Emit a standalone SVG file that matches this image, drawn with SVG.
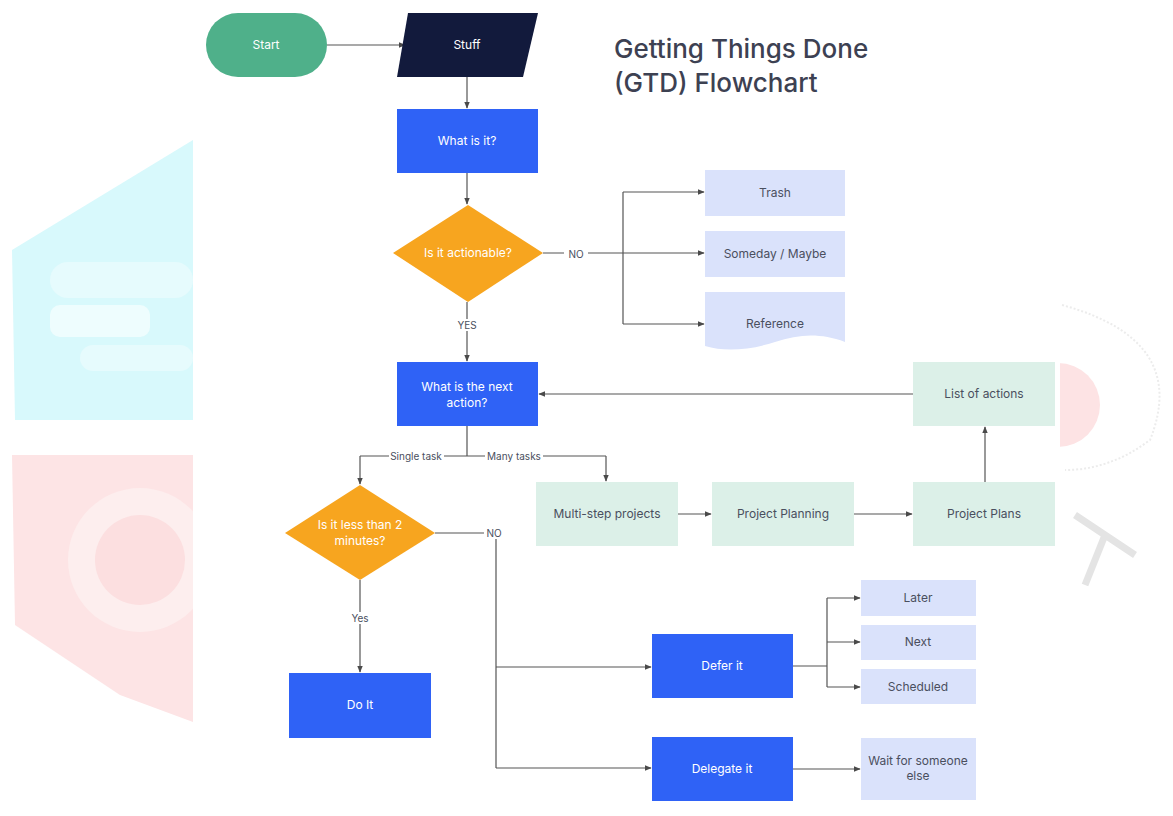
<svg xmlns="http://www.w3.org/2000/svg" width="1173" height="816" viewBox="0 0 1173 816">
<defs>
<marker id="ah" viewBox="0 0 10 10" refX="9" refY="5" markerWidth="7" markerHeight="7" orient="auto-start-reverse" markerUnits="userSpaceOnUse">
<path d="M0,1 L10,5 L0,9 Z" fill="#4a4a4a"/>
</marker>
<style>
.ln{fill:none;stroke:#555;stroke-width:1.2}
.arr{fill:none;stroke:#555;stroke-width:1.2;marker-end:url(#ah)}
.blue{fill:#2f62f6}
.lav{fill:#dae2fb}
.mint{fill:#dcf0e8}
.org{fill:#f7a51f}
.tw{font-family:Inter,"Liberation Sans",sans-serif;font-size:12px;fill:#fff;text-anchor:middle}
.td{font-family:Inter,"Liberation Sans",sans-serif;font-size:12px;fill:#4a4f5e;text-anchor:middle}
.lb{font-family:Inter,"Liberation Sans",sans-serif;font-size:10px;fill:#4a4f5e;text-anchor:middle}
.lbg{fill:#fff}
</style>
</defs>
<rect width="1173" height="816" fill="#fff"/>
<g id="watermark">
<polygon points="193,140 193,420 15,420 12,250" fill="#d8f9fc"/>
<rect x="50" y="262" width="143" height="36" rx="18" fill="#e6fbfd"/>
<rect x="50" y="305" width="100" height="32" rx="10" fill="#eefdfe"/>
<rect x="80" y="345" width="113" height="26" rx="13" fill="#e6fbfd"/>
<polygon points="12,455 193,455 193,722 120,695 15,625" fill="#fde4e5"/>
<circle cx="140" cy="560" r="72" fill="#fdeeee"/>
<circle cx="140" cy="560" r="45" fill="#fcdfe0"/>
<circle cx="1058" cy="405" r="42" fill="#fde3e4"/>
<path d="M1062,305 Q1190,340 1150,440 Q1110,470 1065,470" fill="none" stroke="#ececec" stroke-width="2" stroke-dasharray="2,2"/>
<path d="M1075,515 L1135,555 M1105,535 L1085,585" fill="none" stroke="#e4e4e4" stroke-width="7"/>
<rect x="193" y="0" width="867" height="816" fill="#fff"/>
</g>
<g id="title">
<text x="614" y="58" font-family="Inter,'Liberation Sans',sans-serif" font-size="26" font-weight="500" fill="#3d4152">Getting Things Done</text>
<text x="614" y="92" font-family="Inter,'Liberation Sans',sans-serif" font-size="26" font-weight="500" fill="#3d4152">(GTD) Flowchart</text>
</g>
<g id="connectors">
<path class="arr" d="M327,45 H405"/>
<path class="arr" d="M467,77 V108"/>
<path class="arr" d="M467,173 V204"/>
<path class="ln" d="M543,253 H623 M623,192 V324"/>
<path class="arr" d="M623,192 H704"/>
<path class="arr" d="M623,253 H704"/>
<path class="arr" d="M623,324 H704"/>
<path class="arr" d="M467,302 V361"/>
<path class="arr" d="M913,394 H539"/>
<path class="ln" d="M467,426 V456 M360,456 H606"/>
<path class="arr" d="M360,456 V484"/>
<path class="arr" d="M606,456 V481"/>
<path class="arr" d="M678,514 H711"/>
<path class="arr" d="M854,514 H912"/>
<path class="arr" d="M985,482 V427"/>
<path class="ln" d="M435,533 H496 V768"/>
<path class="arr" d="M496,667 H651"/>
<path class="arr" d="M496,768 H651"/>
<path class="arr" d="M360,580 V672"/>
<path class="ln" d="M793,666 H827 M827,598 V687"/>
<path class="arr" d="M827,598 H860"/>
<path class="arr" d="M827,642 H860"/>
<path class="arr" d="M827,687 H860"/>
<path class="arr" d="M793,769 H860"/>
<rect class="lbg" x="564" y="248" width="24" height="12"/>
<text class="lb" x="576" y="258">NO</text>
<rect class="lbg" x="455" y="319" width="24" height="12"/>
<text class="lb" x="467" y="329">YES</text>
<rect class="lbg" x="389" y="450" width="55" height="12"/>
<text class="lb" x="416" y="460">Single task</text>
<rect class="lbg" x="485" y="450" width="58" height="12"/>
<text class="lb" x="514" y="460">Many tasks</text>
<rect class="lbg" x="484" y="527" width="20" height="12"/>
<text class="lb" x="494" y="537">NO</text>
<rect class="lbg" x="349" y="612" width="22" height="12"/>
<text class="lb" x="360" y="622">Yes</text>
</g>
<g id="start"><rect x="206" y="13" width="121" height="64" rx="32" fill="#4fb08a"/><text class="tw" x="266" y="49">Start</text></g>
<g id="stuff"><polygon points="408,13 538,13 523,77 397,77" fill="#121a3c"/><text class="tw" x="467" y="49">Stuff</text></g>
<g id="what-is-it"><rect class="blue" x="397" y="109" width="141" height="64"/><text class="tw" x="467" y="145">What is it?</text></g>
<g id="actionable"><polygon class="org" points="468,205 543,253 468,302 393,253"/><text class="tw" x="468" y="257">Is it actionable?</text></g>
<g id="trash"><rect class="lav" x="705" y="170" width="140" height="46"/><text class="td" x="775" y="197">Trash</text></g>
<g id="someday"><rect class="lav" x="705" y="231" width="140" height="46"/><text class="td" x="775" y="258">Someday / Maybe</text></g>
<g id="reference"><path class="lav" d="M705,292 H845 V342 C820,333 800,334 775,342 C750,350 725,352 705,346 Z"/><text class="td" x="775" y="328">Reference</text></g>
<g id="next-action"><rect class="blue" x="397" y="362" width="141" height="64"/><text class="tw" x="467" y="391">What is the next</text><text class="tw" x="467" y="407">action?</text></g>
<g id="list-actions"><rect class="mint" x="913" y="362" width="142" height="64"/><text class="td" x="984" y="398">List of actions</text></g>
<g id="less-2"><polygon class="org" points="360,485 435,533 360,580 285,533"/><text class="tw" x="360" y="529">Is it less than 2</text><text class="tw" x="360" y="545">minutes?</text></g>
<g id="multi-step"><rect class="mint" x="536" y="482" width="142" height="64"/><text class="td" x="607" y="518">Multi-step projects</text></g>
<g id="planning"><rect class="mint" x="712" y="482" width="142" height="64"/><text class="td" x="783" y="518">Project Planning</text></g>
<g id="plans"><rect class="mint" x="913" y="482" width="142" height="64"/><text class="td" x="984" y="518">Project Plans</text></g>
<g id="do-it"><rect class="blue" x="289" y="673" width="142" height="65"/><text class="tw" x="360" y="709">Do It</text></g>
<g id="defer"><rect class="blue" x="652" y="634" width="141" height="64"/><text class="tw" x="722" y="670">Defer it</text></g>
<g id="delegate"><rect class="blue" x="652" y="737" width="141" height="64"/><text class="tw" x="722" y="773">Delegate it</text></g>
<g id="later"><rect class="lav" x="861" y="580" width="115" height="36"/><text class="td" x="918" y="602">Later</text></g>
<g id="next"><rect class="lav" x="861" y="625" width="115" height="35"/><text class="td" x="918" y="646">Next</text></g>
<g id="scheduled"><rect class="lav" x="861" y="669" width="115" height="35"/><text class="td" x="918" y="691">Scheduled</text></g>
<g id="wait"><rect class="lav" x="861" y="738" width="115" height="62"/><text class="td" x="918" y="765">Wait for someone</text><text class="td" x="918" y="780">else</text></g>
</svg>
